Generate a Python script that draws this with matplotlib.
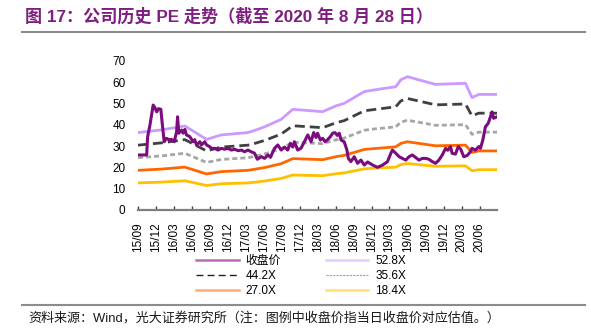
import pandas as pd
import matplotlib
matplotlib.use("Agg")
import matplotlib.pyplot as plt
import matplotlib.dates as mdates
from matplotlib.lines import Line2D

plt.rcParams['font.family'] = ['Liberation Sans', 'Noto Sans CJK SC', 'DejaVu Sans']

# closing-price PE (收盘价)
close_dates = [
    '2015-09-02', '2015-10-15', '2015-10-20', '2015-11-01', '2015-11-17', '2015-11-26', '2015-12-05', '2015-12-14', '2015-12-26',
    '2016-01-02', '2016-01-12', '2016-01-24', '2016-02-05', '2016-02-18', '2016-03-03', '2016-03-15', '2016-03-20', '2016-03-26',
    '2016-04-09', '2016-04-17', '2016-04-26', '2016-05-04', '2016-05-21', '2016-06-07', '2016-06-15', '2016-06-24', '2016-07-11',
    '2016-07-19', '2016-08-05', '2016-08-14', '2016-08-30', '2016-09-08', '2016-09-25', '2016-10-11', '2016-10-28', '2016-11-14',
    '2016-12-01', '2016-12-18', '2017-01-04', '2017-01-21', '2017-02-07', '2017-02-23', '2017-03-12', '2017-03-29', '2017-04-15',
    '2017-04-29', '2017-05-19', '2017-06-05', '2017-06-21', '2017-07-05', '2017-07-17', '2017-07-25', '2017-08-11', '2017-08-28',
    '2017-09-14', '2017-09-30', '2017-10-14', '2017-10-26', '2017-11-03', '2017-11-20', '2017-12-07', '2017-12-24', '2018-01-10',
    '2018-01-27', '2018-02-09', '2018-02-21', '2018-03-01', '2018-03-15', '2018-03-27', '2018-04-08', '2018-04-21', '2018-05-05',
    '2018-05-16', '2018-05-28', '2018-06-09', '2018-06-19', '2018-06-28', '2018-07-14', '2018-07-28', '2018-08-04', '2018-08-17',
    '2018-09-03', '2018-09-20', '2018-10-07', '2018-10-24', '2018-11-10', '2018-12-05', '2018-12-30', '2019-01-24', '2019-02-19',
    '2019-03-08', '2019-03-16', '2019-04-02', '2019-04-19', '2019-05-05', '2019-05-23', '2019-06-08', '2019-06-25', '2019-07-12',
    '2019-07-29', '2019-08-15', '2019-09-01', '2019-09-17', '2019-10-04', '2019-10-21', '2019-11-07', '2019-11-24', '2019-12-11',
    '2019-12-22', '2020-01-05', '2020-01-13', '2020-01-30', '2020-02-13', '2020-02-26', '2020-03-12', '2020-03-29', '2020-04-15',
    '2020-04-23', '2020-05-11', '2020-05-27', '2020-06-05', '2020-06-17', '2020-06-30', '2020-07-14', '2020-07-26', '2020-08-03',
    '2020-08-11', '2020-08-28']
close_pe = [
    25.8, 25.8, 34.4, 40.0, 49.2, 48.0, 46.0, 47.5, 47.2,
    40.6, 32.0, 33.6, 33.0, 33.1, 32.0, 36.7, 43.7, 36.0,
    37.5, 36.0, 37.8, 35.2, 34.4, 32.0, 33.0, 30.5, 32.0,
    30.5, 32.0, 30.5, 29.7, 28.9, 28.9, 28.1, 28.9, 28.5,
    28.9, 28.1, 28.5, 27.8, 28.1, 27.3, 28.1, 27.3, 26.6,
    23.8, 25.0, 24.2, 25.8, 24.7, 27.3, 28.9, 30.5, 28.1,
    29.5, 28.1, 31.3, 29.5, 32.0, 28.1, 29.0, 32.0, 35.2,
    32.0, 36.3, 34.0, 36.0, 32.8, 33.6, 32.0, 33.0, 34.4,
    36.0, 36.3, 35.0, 36.0, 32.8, 32.0, 28.1, 24.2, 22.7,
    25.0, 21.9, 23.4, 21.1, 22.5, 21.1, 20.0, 21.0, 22.7,
    26.6, 28.1, 26.6, 25.0, 24.2, 23.4, 25.0, 25.8, 24.6,
    23.4, 24.2, 24.2, 23.8, 22.7, 21.9, 23.4, 25.8, 28.9,
    28.0, 29.7, 26.6, 26.2, 29.7, 28.5, 25.0, 25.5, 27.3,
    28.9, 28.1, 29.7, 28.9, 32.8, 39.0, 40.6, 43.7, 46.0,
    43.0, 43.7]

# PE band lines
band_dates = ['2015-09-01', '2016-01-01', '2016-04-26', '2016-08-14', '2016-10-28', '2017-03-12',
              '2017-04-15', '2017-06-05', '2017-08-28', '2017-10-26', '2018-03-27', '2018-06-02',
              '2018-07-14', '2018-10-24', '2018-12-13', '2019-04-02', '2019-04-27', '2019-05-31',
              '2019-10-21', '2020-03-21', '2020-04-23', '2020-05-27', '2020-08-28']
pe_528 = [36.3, 37.6, 39.4, 33.1, 35.2, 36.3, 37.3, 39.0, 42.5, 47.2, 46.1, 48.8,
          50.0, 55.5, 56.3, 57.8, 61.0, 62.5, 58.9, 59.4, 52.7, 54.2, 54.2]
pe_442 = [30.4, 31.5, 33.0, 27.7, 29.5, 30.4, 31.2, 32.6, 35.6, 39.5, 38.6, 40.9,
          41.9, 46.5, 47.1, 48.4, 51.1, 52.3, 49.3, 49.7, 44.1, 45.4, 45.4]
pe_356 = [24.5, 25.4, 26.6, 22.3, 23.7, 24.5, 25.1, 26.3, 28.7, 31.8, 31.1, 32.9,
          33.7, 37.4, 38.0, 39.0, 41.1, 42.1, 39.7, 40.0, 35.5, 36.5, 36.5]
pe_270 = [18.6, 19.2, 20.1, 16.9, 18.0, 18.6, 19.1, 19.9, 21.7, 24.1, 23.6, 25.0,
          25.6, 28.4, 28.8, 29.6, 31.2, 32.0, 30.1, 30.4, 27.0, 27.7, 27.7]
pe_184 = [12.7, 13.1, 13.7, 11.5, 12.3, 12.7, 13.0, 13.6, 14.8, 16.4, 16.1, 17.0,
          17.4, 19.3, 19.6, 20.1, 21.3, 21.8, 20.5, 20.7, 18.4, 18.9, 18.9]

tick_dates = pd.date_range('2015-09-01', '2020-06-01', freq='3MS')
labels = ['收盘价', '52.8X', '44.2X', '35.6X', '27.0X', '18.4X']

W, H = 591, 334
fig = plt.figure(figsize=(W / 100, H / 100), dpi=100)
ax = fig.add_axes([138 / W, 1 - 210 / H, (497 - 138) / W, (210 - 60.7) / H])

bd = pd.to_datetime(band_dates)
lw = 2.0
ax.plot(bd, pe_184, color='#FFC000', lw=lw, zorder=2)
ax.plot(bd, pe_270, color='#FF6600', lw=lw, zorder=2)
ax.plot(bd, pe_356, color='#A6A6A6', lw=lw, dashes=(1.8, 1.1), zorder=2)
ax.plot(bd, pe_442, color='#404040', lw=lw, dashes=(3.6, 1.8), zorder=2)
ax.plot(bd, pe_528, color='#CC99FF', lw=lw, zorder=2)
ax.plot(pd.to_datetime(close_dates), close_pe, color='#7B0C7E', lw=2.2, zorder=3)

ax.set_ylim(0, 70)
ax.set_yticks(range(0, 71, 10))
ax.set_xlim(pd.Timestamp('2015-09-01'), pd.Timestamp('2020-08-28'))
ax.set_xticks(tick_dates)
ax.xaxis.set_major_formatter(mdates.DateFormatter('%y/%m'))
for s in ['left', 'right', 'top']:
    ax.spines[s].set_visible(False)
ax.spines['bottom'].set_color('#7F7F7F')
ax.spines['bottom'].set_linewidth(1.6)
ax.tick_params(axis='y', length=0, pad=9, labelsize=8.5)
ax.tick_params(axis='x', direction='in', length=3, width=1, color='#404040',
               pad=9, labelsize=8.5, labelrotation=90)

# legend (row order: 收盘价/52.8X, 44.2X/35.6X, 27.0X/18.4X)
h_close = Line2D([], [], color='#B86CB8', lw=1.8)
h_528 = Line2D([], [], color='#E2CCFF', lw=1.8)
h_442 = Line2D([], [], color='#202020', lw=1.0, dashes=(5, 3))
h_356 = Line2D([], [], color='#A0A0A0', lw=0.8, dashes=(2, 1))
h_270 = Line2D([], [], color='#FFAA77', lw=1.8)
h_184 = Line2D([], [], color='#FFE070', lw=1.8)
fig.legend([h_close, h_442, h_270, h_528, h_356, h_184],
           [labels[0], labels[2], labels[4], labels[1], labels[3], labels[5]],
           ncol=2, frameon=False, fontsize=8.5, loc='upper left',
           bbox_to_anchor=(196 / W, 1 - 255 / H), borderpad=0, borderaxespad=0,
           handlelength=3.6, handletextpad=0.6, columnspacing=3.8, labelspacing=0.25)

title_color = '#7E1E80'
fig.text(25 / W, 1 - 16 / H, '图 17：公司历史 PE 走势（截至 2020 年 8 月 28 日）',
         color=title_color, fontsize=12.3, fontweight='bold', va='center', ha='left')
fig.add_artist(Line2D([22 / W, 585 / W], [1 - 32 / H, 1 - 32 / H], color='#8C8C8C', lw=1.5))
fig.add_artist(Line2D([22 / W, 585 / W], [1 - 305 / H, 1 - 305 / H], color='#8C8C8C', lw=1.5))
fig.text(28 / W, 1 - 318 / H, '资料来源：Wind，光大证券研究所（注：图例中收盘价指当日收盘价对应估值。）',
         fontsize=9.4, va='center', ha='left', color='#1A1A1A')

fig.savefig('out.png', dpi=100)
